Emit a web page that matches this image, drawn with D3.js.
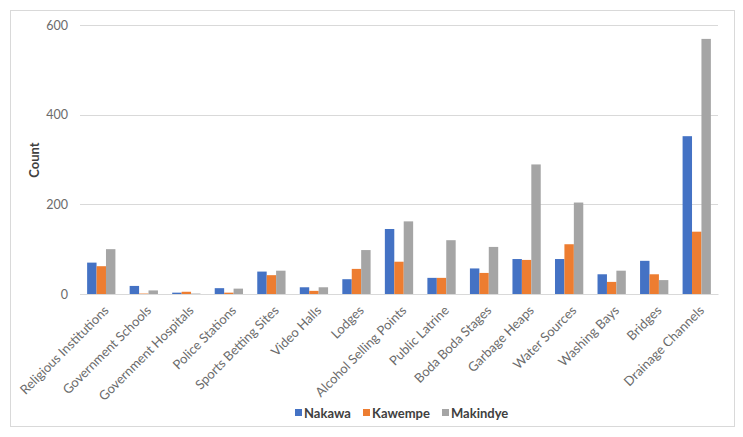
<!DOCTYPE html>
<html><head><meta charset="utf-8">
<script src="https://cdn.jsdelivr.net/npm/d3@7"></script>
<style>body{margin:0;background:#fff}svg{display:block}</style>
</head><body><svg id="c" width="743" height="437"></svg>
<script>
const categories = ["Religious Institutions","Government Schools","Government Hospitals","Police Stations","Sports Betting Sites","Video Halls","Lodges","Alcohol Selling Points","Public Latrine","Boda Boda Stages","Garbage Heaps","Water Sources","Washing Bays","Bridges","Drainage Channels"];
const seriesNames = ["Nakawa","Kawempe","Makindye"];
const nakawa   = [70,18,3,13,50,15,33,145,36,57,78,78,44,74,352];
const kawempe  = [62,1,5,3,42,7,56,72,36,47,76,111,27,44,139];
const makindye = [100,8,1,12,52,15,98,162,120,105,289,204,52,31,569];
const yTicks = [0,200,400,600];
const colors = ["#4472C4","#ED7D31","#A5A5A5"];
const values = [nakawa,kawempe,makindye];
const font = "Lato, 'Open Sans', sans-serif";

const svg = d3.select("#c");
svg.append("rect").attr("x",10.5).attr("y",10.5).attr("width",724).attr("height",416)
  .attr("fill","#fff").attr("stroke","#d9d9d9");

const m = {l:80,r:718,t:25,b:294};
const x = d3.scaleBand().domain(categories).range([m.l,m.r]).paddingInner(0.335).paddingOuter(0.1675);
const xs = d3.scaleBand().domain(seriesNames).range([0,x.bandwidth()]);
const y = d3.scaleLinear().domain([0,600]).range([m.b,m.t]);

// gridlines
svg.append("g").selectAll("line").data(yTicks).join("line")
  .attr("x1",m.l).attr("x2",m.r).attr("y1",d=>Math.round(y(d))+0.5).attr("y2",d=>Math.round(y(d))+0.5)
  .attr("stroke","#d9d9d9").attr("stroke-width",1);

// y labels
const yAxis = svg.append("g").attr("transform",`translate(${m.l},0)`)
  .call(d3.axisLeft(y).tickValues(yTicks).tickSize(0).tickPadding(12));
yAxis.select(".domain").remove();
yAxis.selectAll("text").attr("font-family",font).attr("font-size",12.5).attr("fill","#6b6b6b");

// bars
const groups = svg.append("g").selectAll("g").data(seriesNames).join("g").attr("fill",(d,i)=>colors[i]);
groups.selectAll("rect").data((s,i)=>values[i].map((v,j)=>({s,v,c:categories[j]}))).join("rect")
  .attr("x",d=>x(d.c)+xs(d.s)).attr("width",xs.bandwidth())
  .attr("y",d=>y(d.v)).attr("height",d=>y(0)-y(d.v));

// x axis
const xAxis = svg.append("g").attr("transform",`translate(0,${m.b})`)
  .call(d3.axisBottom(x).tickSize(0).tickPadding(0));
xAxis.select(".domain").attr("stroke","#d9d9d9");
xAxis.selectAll("text").attr("font-family",font).attr("font-size",13).attr("fill","#6b6b6b")
  .attr("text-anchor","end").attr("dy","0.35em")
  .attr("transform","translate(5,14) rotate(-45)");

// y title
svg.append("text").attr("transform","translate(39,160) rotate(-90)").attr("text-anchor","middle")
  .attr("font-family",font).attr("font-size",13).attr("font-weight","bold").attr("fill","#404040").text("Count");

// legend
const lx = [295,363,442];
const lg = svg.append("g").selectAll("g").data(seriesNames).join("g")
  .attr("transform",(d,i)=>`translate(${lx[i]},413)`);
lg.append("rect").attr("x",0).attr("y",-4).attr("width",7).attr("height",7).attr("fill",(d,i)=>colors[i]);
lg.append("text").attr("x",9).attr("y",0).attr("dy","0.35em").attr("font-family",font).attr("font-size",13)
  .attr("font-weight","bold").attr("fill","#404040").text(d=>d);
</script></body></html>
